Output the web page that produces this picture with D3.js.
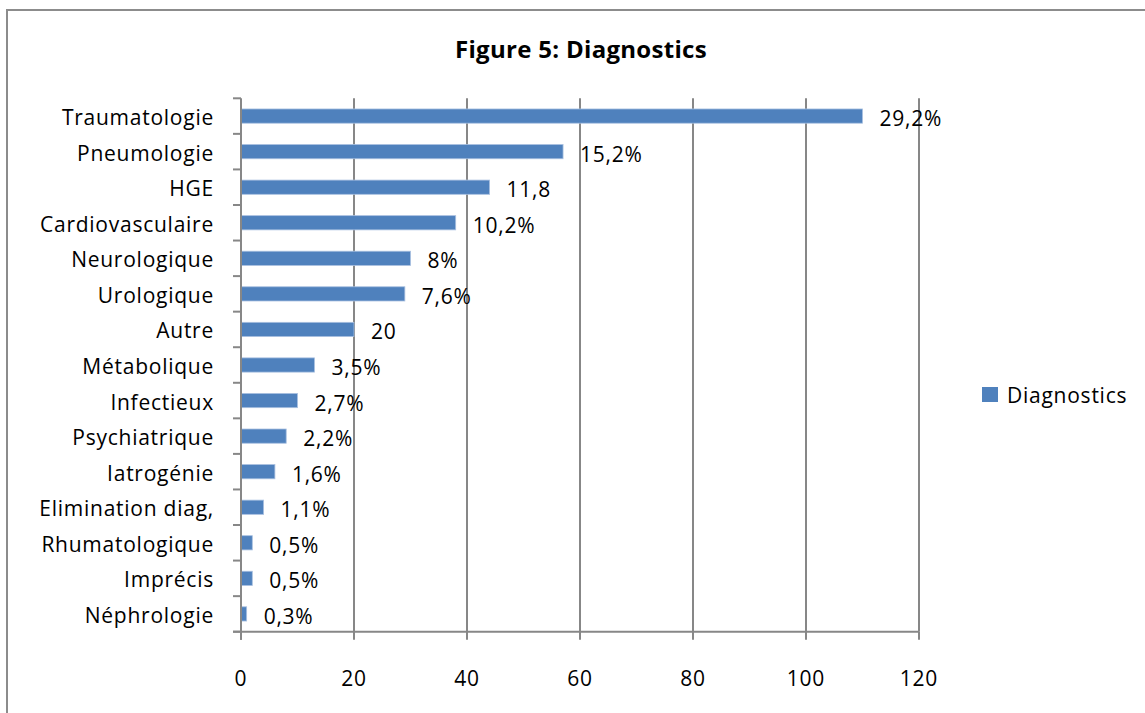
<!DOCTYPE html>
<html><head><meta charset="utf-8">
<script src="https://cdn.jsdelivr.net/npm/d3@7"></script>
<style>
html,body{margin:0;padding:0;background:#fff;}
svg text{font-family:"Open Sans","DejaVu Sans",sans-serif;fill:#000;}
</style></head>
<body>
<svg id="c" width="1145" height="713"></svg>
<script>
const categories = ["Traumatologie","Pneumologie","HGE","Cardiovasculaire","Neurologique","Urologique","Autre","Métabolique","Infectieux","Psychiatrique","Iatrogénie","Elimination diag,","Rhumatologique","Imprécis","Néphrologie"];
const values = [110,57,44,38,30,29,20,13,10,8,6,4,2,2,1];
const labels = ["29,2%","15,2%","11,8","10,2%","8%","7,6%","20","3,5%","2,7%","2,2%","1,6%","1,1%","0,5%","0,5%","0,3%"];
const xTicks = [0,20,40,60,80,100,120];
const seriesName = "Diagnostics";
const title = "Figure 5: Diagnostics";

const svg = d3.select("#c");
const W = 1145, H = 713;
const m = {left:241, right:919, top:98.3, bottom:631.7};
const FS = 21, LS = "0.75px";

svg.append("rect").attr("x",7).attr("y",10).attr("width",W+20).attr("height",H+20)
  .attr("fill","#fff").attr("stroke","#8c8c8c").attr("stroke-width",2);

const x = d3.scaleLinear().domain([0,120]).range([m.left,m.right]);
const y = d3.scaleBand().domain(categories).range([m.top,m.bottom]).paddingInner(0.6).paddingOuter(0.3);
const yb = d3.scaleBand().domain(categories).range([m.top,m.bottom]);

const gridColor = "#878787";
svg.append("g").selectAll("line").data(xTicks.slice(1)).join("line")
  .attr("x1",d=>x(d)).attr("x2",d=>x(d)).attr("y1",m.top).attr("y2",m.bottom)
  .attr("stroke",gridColor).attr("stroke-width",2);

svg.append("g").selectAll("rect").data(values).join("rect")
  .attr("x",x(0)).attr("y",(d,i)=>y(categories[i]))
  .attr("width",d=>x(d)-x(0)).attr("height",y.bandwidth())
  .attr("fill","#4F81BD").attr("stroke","#a9c0e0").attr("stroke-width",0.8);

const ya = svg.append("g");
ya.append("line").attr("x1",m.left).attr("x2",m.left).attr("y1",m.top).attr("y2",m.bottom+8)
  .attr("stroke",gridColor).attr("stroke-width",2);
const bounds = categories.map(c=>yb(c)).concat([m.bottom]);
ya.selectAll("line.t").data(bounds).join("line").attr("class","t")
  .attr("x1",m.left-8).attr("x2",m.left).attr("y1",d=>d).attr("y2",d=>d)
  .attr("stroke",gridColor).attr("stroke-width",2);
ya.selectAll("text").data(categories).join("text")
  .attr("x",214).attr("y",c=>yb(c)+yb.bandwidth()/2+9)
  .attr("text-anchor","end").attr("font-size",FS).attr("letter-spacing",LS).text(d=>d);

const xa = svg.append("g");
xa.append("line").attr("x1",m.left-8).attr("x2",m.right).attr("y1",m.bottom).attr("y2",m.bottom)
  .attr("stroke",gridColor).attr("stroke-width",2);
xa.selectAll("line.t").data(xTicks).join("line").attr("class","t")
  .attr("x1",d=>x(d)).attr("x2",d=>x(d)).attr("y1",m.bottom).attr("y2",m.bottom+8)
  .attr("stroke",gridColor).attr("stroke-width",2);
xa.selectAll("text").data(xTicks).join("text")
  .attr("x",d=>x(d)).attr("y",686).attr("text-anchor","middle")
  .attr("font-size",FS).attr("letter-spacing",LS).text(d=>d);

svg.append("g").selectAll("text").data(values).join("text")
  .attr("x",d=>x(d)+17).attr("y",(d,i)=>y(categories[i])+y.bandwidth()/2+10)
  .attr("font-size",FS).attr("letter-spacing",LS).text((d,i)=>labels[i]);

svg.append("text").attr("x",581).attr("y",58).attr("text-anchor","middle")
  .attr("font-size",24).attr("font-weight","bold").attr("letter-spacing","0.3px").text(title);

svg.append("rect").attr("x",982).attr("y",387).attr("width",16).attr("height",15).attr("fill","#4F81BD");
svg.append("text").attr("x",1007).attr("y",403)
  .attr("font-size",FS).attr("letter-spacing",LS).text(seriesName);
</script>
</body></html>
